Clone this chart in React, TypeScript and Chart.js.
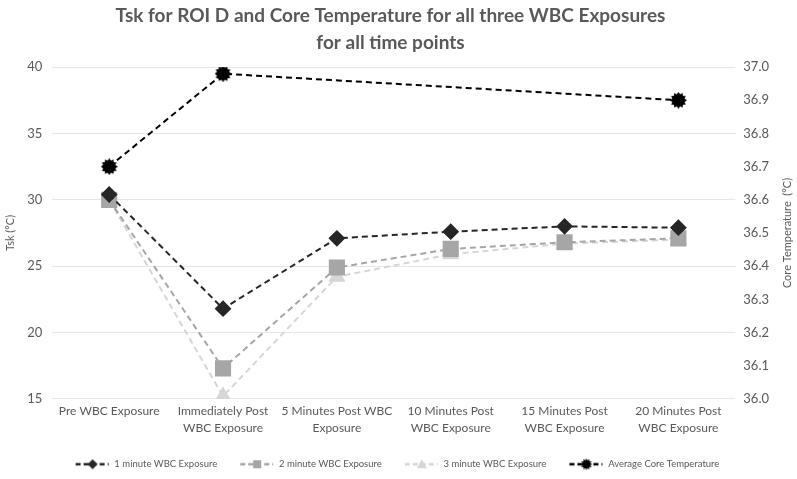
import React, { useEffect, useRef } from "react";
import { Chart, registerables } from "chart.js";

Chart.register(...registerables);

const categories: string[][] = [
  ["Pre WBC Exposure"],
  ["Immediately Post", "WBC Exposure"],
  ["5 Minutes Post WBC", "Exposure"],
  ["10 Minutes Post", "WBC Exposure"],
  ["15 Minutes Post", "WBC Exposure"],
  ["20 Minutes Post", "WBC Exposure"],
];

const oneMinute = [30.4, 21.8, 27.1, 27.6, 28.0, 27.9];
const twoMinute = [30.0, 17.3, 24.9, 26.3, 26.8, 27.1];
const threeMinute = [30.0, 15.2, 24.2, 25.9, 26.7, 27.0];
const coreTemp: (number | null)[] = [36.7, 36.98, null, null, null, 36.9];

const seriesNames = [
  "1 minute WBC Exposure",
  "2 minute WBC Exposure",
  "3 minute WBC Exposure",
  "Average Core Temperature",
];

const rightTitle = "Core Temperature  (°C)";

const burstPath = (ctx: CanvasRenderingContext2D, cx: number, cy: number, ro: number, ri: number, n: number) => {
  ctx.beginPath();
  for (let i = 0; i < n * 2; i++) {
    const r = i % 2 === 0 ? ro : ri;
    const a = (Math.PI * i) / n - Math.PI / 2;
    const x = cx + r * Math.cos(a);
    const y = cy + r * Math.sin(a);
    if (i === 0) ctx.moveTo(x, y);
    else ctx.lineTo(x, y);
  }
  ctx.closePath();
};

const makeBurst = (size: number, color: string) => {
  const c = document.createElement("canvas");
  c.width = size;
  c.height = size;
  const ctx = c.getContext("2d")!;
  ctx.fillStyle = color;
  burstPath(ctx, size / 2, size / 2, size / 2, size / 2 - 2.2, 12);
  ctx.fill();
  return c;
};

const ICON_W = 48;
const SYM_W = 34;

const makeLegendIcon = (color: string, marker: string) => {
  const w = ICON_W;
  const h = 14;
  const c = document.createElement("canvas");
  c.width = w;
  c.height = h;
  const ctx = c.getContext("2d")!;
  const x0 = w - SYM_W;
  ctx.strokeStyle = color;
  ctx.lineWidth = 2.5;
  ctx.setLineDash([5, 3]);
  ctx.beginPath();
  ctx.moveTo(x0, h / 2);
  ctx.lineTo(w - 1, h / 2);
  ctx.stroke();
  ctx.setLineDash([]);
  ctx.fillStyle = color;
  const cx = x0 + SYM_W / 2;
  const cy = h / 2;
  ctx.beginPath();
  if (marker === "diamond") {
    ctx.moveTo(cx, cy - 5);
    ctx.lineTo(cx + 5, cy);
    ctx.lineTo(cx, cy + 5);
    ctx.lineTo(cx - 5, cy);
    ctx.closePath();
  } else if (marker === "square") {
    ctx.rect(cx - 4, cy - 4, 8, 8);
  } else if (marker === "triangle") {
    ctx.moveTo(cx, cy - 5);
    ctx.lineTo(cx + 5, cy + 4);
    ctx.lineTo(cx - 5, cy + 4);
    ctx.closePath();
  } else {
    burstPath(ctx, cx, cy, 6, 4, 12);
  }
  ctx.fill();
  return c;
};

export default function App() {
  const ref = useRef<HTMLCanvasElement>(null);

  useEffect(() => {
    document.body.style.margin = "0";
    const canvas = ref.current;
    if (!canvas) return;

    const c1 = "#262626";
    const c2 = "#a6a6a6";
    const c3 = "#d6d6d6";
    const c4 = "#000000";
    const burst = makeBurst(17, c4);
    const icons = [
      makeLegendIcon(c1, "diamond"),
      makeLegendIcon(c2, "square"),
      makeLegendIcon(c3, "triangle"),
      makeLegendIcon(c4, "burst"),
    ];
    const textColor = "#595959";

    const rightTitlePlugin = {
      id: "rightTitle",
      afterDraw(chart: any) {
        const { ctx, chartArea } = chart;
        ctx.save();
        ctx.fillStyle = textColor;
        ctx.font = "11px Lato";
        ctx.textAlign = "center";
        ctx.textBaseline = "middle";
        ctx.translate(chart.width - 10, (chartArea.top + chartArea.bottom) / 2);
        ctx.rotate(-Math.PI / 2);
        ctx.fillText(rightTitle, 0, 0);
        ctx.restore();
      },
    };

    const chart = new Chart(canvas, {
      type: "line",
      data: {
        labels: categories,
        datasets: [
          {
            label: seriesNames[0],
            data: oneMinute,
            borderColor: c1,
            backgroundColor: c1,
            borderWidth: 2,
            borderDash: [6, 4],
            pointStyle: "rectRot",
            pointRadius: 7,
            pointBackgroundColor: c1,
            pointBorderColor: c1,
            yAxisID: "y",
          },
          {
            label: seriesNames[1],
            data: twoMinute,
            borderColor: c2,
            backgroundColor: c2,
            borderWidth: 2,
            borderDash: [6, 4],
            pointStyle: "rect",
            pointRadius: 10,
            pointBackgroundColor: c2,
            pointBorderColor: c2,
            yAxisID: "y",
          },
          {
            label: seriesNames[2],
            data: threeMinute,
            borderColor: c3,
            backgroundColor: c3,
            borderWidth: 2,
            borderDash: [6, 4],
            pointStyle: "triangle",
            pointRadius: 8,
            pointBackgroundColor: c3,
            pointBorderColor: c3,
            yAxisID: "y",
          },
          {
            label: seriesNames[3],
            data: coreTemp,
            borderColor: c4,
            backgroundColor: c4,
            borderWidth: 2,
            borderDash: [6, 4],
            pointStyle: burst as any,
            pointRadius: 8,
            spanGaps: true,
            yAxisID: "y1",
          },
        ],
      },
      options: {
        responsive: false,
        animation: false,
        layout: { padding: { left: 4, right: 20, top: 0, bottom: 0 } },
        plugins: {
          title: {
            display: true,
            text: [
              "Tsk for ROI D and Core Temperature for all three WBC Exposures",
              "for all time points",
            ],
            color: textColor,
            font: { family: "Lato", size: 19, weight: "bold", lineHeight: 1.45 },
            padding: { top: 2, bottom: 10 },
          },
          legend: {
            position: "bottom",
            labels: {
              usePointStyle: true,
              pointStyleWidth: ICON_W,
              color: textColor,
              font: { family: "Lato", size: 9.5 },
              padding: 9,
              generateLabels: () =>
                seriesNames.map((n, i) => ({
                  text: n,
                  pointStyle: icons[i] as any,
                  fillStyle: "transparent",
                  strokeStyle: "transparent",
                  lineWidth: 0,
                  hidden: false,
                  datasetIndex: i,
                  fontColor: textColor,
                })),
            },
          },
          tooltip: { enabled: false },
        },
        scales: {
          x: {
            offset: true,
            grid: { display: false, drawTicks: false },
            border: { display: false },
            afterFit: (axis: any) => {
              axis.height += 10;
            },
            ticks: {
              color: textColor,
              font: { family: "Lato", size: 12, lineHeight: 1.4 },
              maxRotation: 0,
              autoSkip: false,
              padding: 4,
            },
          },
          y: {
            position: "left",
            min: 15,
            max: 40,
            ticks: {
              stepSize: 5,
              color: textColor,
              font: { family: "Lato", size: 13 },
              padding: 10,
            },
            grid: { color: "#e6e6e6", drawTicks: false },
            border: { display: false },
            title: {
              display: true,
              text: "Tsk (°C)",
              color: textColor,
              font: { family: "Lato", size: 11 },
              padding: 0,
            },
          },
          y1: {
            position: "right",
            min: 36,
            max: 37,
            ticks: {
              stepSize: 0.1,
              color: textColor,
              font: { family: "Lato", size: 13 },
              padding: 8,
              callback: (v: any) => Number(v).toFixed(1),
            },
            grid: { display: false, drawTicks: false },
            border: { display: false },
          },
        },
      },
      plugins: [rightTitlePlugin],
    });
    return () => chart.destroy();
  }, []);

  return (
    <div style={{ width: 797, height: 479, background: "#fff" }}>
      <canvas ref={ref} width={797} height={479} style={{ display: "block" }} />
    </div>
  );
}
